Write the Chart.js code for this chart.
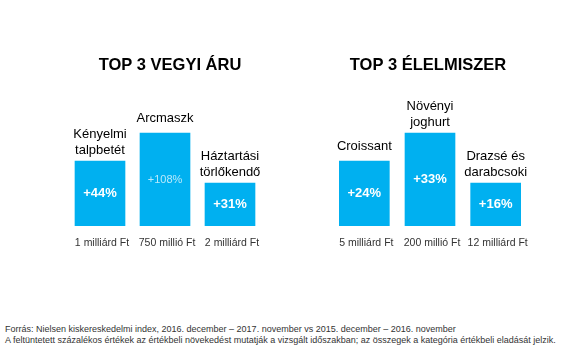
<!DOCTYPE html>
<html>
<head>
<meta charset="utf-8">
<script src="https://cdn.jsdelivr.net/npm/chart.js@4"></script>
<style>
  body { margin: 0; background: #fff; }
  #wrap { position: relative; width: 580px; height: 352px; overflow: hidden; }
  canvas { position: absolute; top: 0; }
  #chartLeft { left: 0; }
  #chartRight { left: 290px; }
  #note {
    position: absolute; left: 5px; top: 324px;
    font: 9px "Liberation Sans", Arial, sans-serif; line-height: 11px; color: #333;
    white-space: nowrap;
  }
</style>
</head>
<body>
<div id="wrap">
  <canvas id="chartLeft" width="290" height="300"></canvas>
  <canvas id="chartRight" width="290" height="300"></canvas>
  <div id="note">
    Forrás: Nielsen kiskereskedelmi index, 2016. december – 2017. november vs 2015. december – 2016. november<br>
    A feltüntetett százalékos értékek az értékbeli növekedést mutatják a vizsgált időszakban; az összegek a kategória értékbeli eladását jelzik.
  </div>
</div>
<script>
// data for the two panels
const leftTitle = "TOP 3 VEGYI ÁRU";
const leftCategories = [["Kényelmi", "talpbetét"], ["Arcmaszk"], ["Háztartási", "törlőkendő"]];
const leftGrowth = ["+44%", "+108%", "+31%"];
const leftSales = ["1 milliárd Ft", "750 millió Ft", "2 milliárd Ft"];
const leftBarHeights = [65, 93, 43]; // relative bar heights as drawn

const rightTitle = "TOP 3 ÉLELMISZER";
const rightCategories = [["Croissant"], ["Növényi", "joghurt"], ["Drazsé és", "darabcsoki"]];
const rightGrowth = ["+24%", "+33%", "+16%"];
const rightSales = ["5 milliárd Ft", "200 millió Ft", "12 milliárd Ft"];
const rightBarHeights = [65, 93, 43];

const FONT = '"Liberation Sans", Arial, sans-serif';
const BLUE = '#00b0f0';

// draws title, labels above bars, values inside, amounts below
const labelPlugin = {
  id: 'panelLabels',
  afterDatasetsDraw(chart) {
    const ctx = chart.ctx;
    const area = chart.chartArea;
    const o = chart.options.plugins.panelLabels;
    const meta = chart.getDatasetMeta(0);

    ctx.save();
    ctx.textAlign = 'center';
    ctx.textBaseline = 'middle';

    // title
    ctx.fillStyle = '#000';
    ctx.font = 'bold 16.5px ' + FONT;
    ctx.fillText(o.title, (area.left + area.right) / 2 + o.titleShift, 65);

    meta.data.forEach((bar, i) => {
      const lines = o.categories[i];
      // category name
      ctx.fillStyle = '#000';
      ctx.font = '13px ' + FONT;
      const offset = lines.length > 1 ? 11 : 15;
      lines.forEach((line, j) => {
        const y = bar.y - offset - (lines.length - 1 - j) * 16;
        ctx.fillText(line, bar.x, y);
      });

      // growth value in the middle of the bar
      const mid = (bar.y + bar.base) / 2;
      if (o.growth[i] === '+108%') {
        ctx.fillStyle = 'rgba(255,255,255,0.72)';
        ctx.font = '11px ' + FONT;
      } else {
        ctx.fillStyle = '#fff';
        ctx.font = 'bold 13px ' + FONT;
      }
      ctx.fillText(o.growth[i], bar.x, mid);

      // sales amount below
      ctx.fillStyle = '#333';
      ctx.font = '10.5px ' + FONT;
      ctx.fillText(o.sales[i], bar.x + 2, bar.base + 17);
    });
    ctx.restore();
  }
};

function makePanel(id, title, categories, growth, sales, heights, padLeft, padRight, titleShift) {
  const ctx = document.getElementById(id).getContext('2d');
  return new Chart(ctx, {
    type: 'bar',
    data: {
      labels: categories.map(c => c.join(' ')),
      datasets: [{
        data: heights,
        backgroundColor: BLUE,
        borderWidth: 0,
        barThickness: 50
      }]
    },
    options: {
      responsive: false,
      animation: false,
      devicePixelRatio: 1,
      layout: { padding: { left: padLeft, right: padRight, top: 86, bottom: 74 } },
      scales: {
        x: { display: false, offset: true },
        y: { display: false, min: 0, max: 140 }
      },
      plugins: {
        legend: { display: false },
        tooltip: { enabled: false },
        panelLabels: { title: title, titleShift: titleShift, categories: categories, growth: growth, sales: sales }
      }
    },
    plugins: [labelPlugin]
  });
}

makePanel('chartLeft', leftTitle, leftCategories, leftGrowth, leftSales, leftBarHeights, 67.5, 27.5, 5);
makePanel('chartRight', rightTitle, rightCategories, rightGrowth, rightSales, rightBarHeights, 41.5, 51.5, -2);
</script>
</body>
</html>
